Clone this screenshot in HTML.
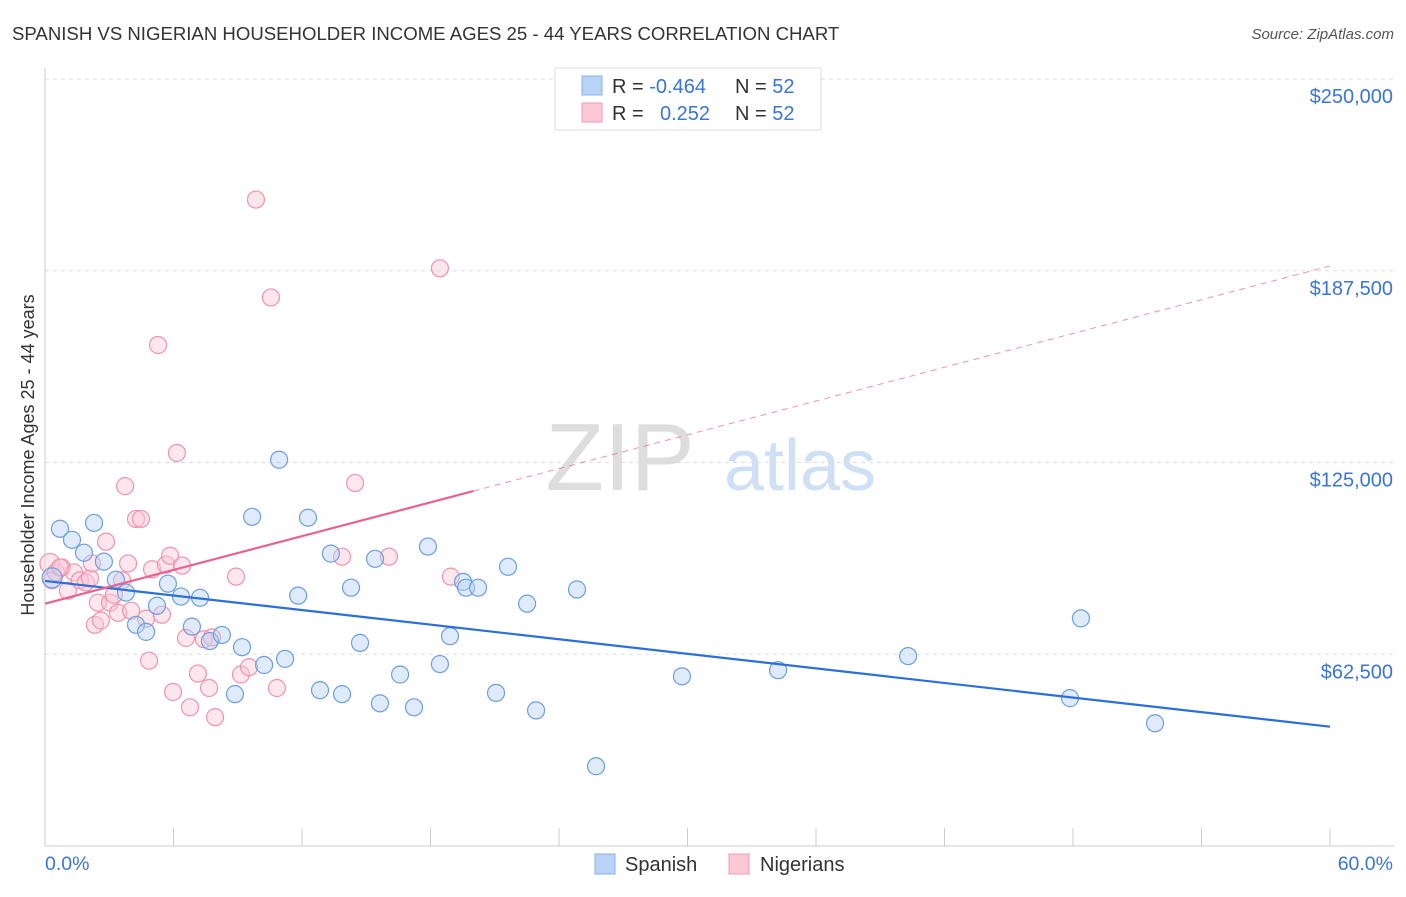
<!DOCTYPE html>
<html><head><meta charset="utf-8"><style>
body{margin:0;background:#fff;font-family:"Liberation Sans",sans-serif}
svg text{font-family:"Liberation Sans",sans-serif}
</style></head><body>
<svg id="c" width="1406" height="892">
<text x="12" y="40" font-size="18.6" fill="#333">SPANISH VS NIGERIAN HOUSEHOLDER INCOME AGES 25 - 44 YEARS CORRELATION CHART</text>
<text x="1394" y="39" font-size="15" fill="#555" font-style="italic" text-anchor="end">Source: ZipAtlas.com</text>
<text x="620" y="490" font-size="96" fill="#ddd" font-family="Liberation Serif" text-anchor="middle">ZIP</text>
<text x="800" y="490" font-size="72" fill="#cfe0f5" text-anchor="middle">atlas</text>
<text transform="translate(34,455) rotate(-90)" font-size="18" fill="#333" text-anchor="middle">Householder Income Ages 25 - 44 years</text>
<g id="grid"></g><g id="marks"></g>
<g>
<rect x="555" y="68" width="266" height="62" fill="#fff" stroke="#ddd"/>
<rect x="582" y="76" width="20" height="19" fill="#b8d3f5" stroke="#8ab2e8"/>
<rect x="582" y="103" width="20" height="19" fill="#fcc8d6" stroke="#f09ab4"/>
<text x="612" y="93" font-size="20" fill="#333">R = <tspan fill="#3a75d6">-0.464</tspan><tspan x="735">N = </tspan><tspan fill="#3a75d6">52</tspan></text>
<text x="612" y="120" font-size="20" fill="#333">R = <tspan x="660" fill="#3a75d6">0.252</tspan><tspan x="735">N = </tspan><tspan fill="#3a75d6">52</tspan></text>
</g>
<g>
<rect x="595" y="854" width="20" height="20" fill="#b8d3f5" stroke="#8ab2e8"/>
<text x="625" y="871" font-size="20" fill="#333">Spanish</text>
<rect x="729" y="854" width="20" height="20" fill="#fcc8d6" stroke="#f09ab4"/>
<text x="760" y="871" font-size="20" fill="#333">Nigerians</text>
</g>
<text x="45" y="870" font-size="19.5" fill="#3a75d6">0.0%</text>
<text x="1393" y="870" font-size="19.5" fill="#3a75d6" text-anchor="end">60.0%</text>
</svg>
<script>
const yTicks=[62500,125000,187500,250000];
const yTickLabels=["$62,500","$125,000","$187,500","$250,000"];
const spanishX=[0.33,0.7,1.26,1.82,2.29,2.75,3.31,3.78,4.25,4.72,5.23,5.74,6.35,6.86,7.24,7.7,8.26,8.87,9.2,9.67,10.23,10.93,11.21,11.82,12.28,12.84,13.35,13.87,14.29,14.71,15.41,15.64,16.58,17.23,17.88,18.44,18.91,19.52,19.66,20.22,21.06,21.62,22.51,22.93,24.84,25.73,29.74,34.23,40.3,47.86,48.37,51.83];
const spanishY=[87400,103400,99800,95600,105300,92700,86800,82600,72100,69800,78300,85500,81300,71500,80900,66800,68800,49500,64800,107300,59000,125900,61000,81600,107000,50800,95300,49500,84200,66200,93600,46500,55900,45200,97600,59300,68400,86100,84200,84200,49900,91000,79000,44200,83600,26000,55300,57300,61900,48200,74200,40000];
const nigeriaX=[0.23,0.33,0.51,0.79,1.07,1.35,1.63,1.91,2.1,2.33,2.47,2.61,2.85,3.04,3.22,3.41,3.6,3.74,3.88,4.02,4.25,4.48,4.72,4.86,5.0,5.28,5.46,5.65,5.84,5.98,6.16,6.4,6.58,6.77,7.14,7.42,7.66,7.8,7.94,8.92,9.15,9.53,9.85,10.55,10.83,13.87,14.48,16.06,18.44,18.95,0.7,2.19];
const nigeriaY=[92100,86600,89200,90800,83200,89200,86600,85900,87200,72100,79300,73500,99200,79300,81900,76000,86600,117300,92100,76700,106600,106600,74100,60400,90200,163300,75400,91700,94600,50200,128100,91400,67800,45200,56200,67400,51500,68000,42000,87800,55900,58300,210700,178800,51500,94300,118300,94300,188300,87800,90800,92100];
const NS='http://www.w3.org/2000/svg';
const X0=45,X1=1330,Yb=846,Yt=79;
const sx=v=>X0+(v/60)*(X1-X0);
const sy=v=>Yb-(v/250000)*(Yb-Yt);
function mk(t,a,p){const e=document.createElementNS(NS,t);for(const k in a)e.setAttribute(k,a[k]);(p||document.getElementById('marks')).appendChild(e);return e;}
const g=document.getElementById('grid');
yTicks.forEach((v,i)=>{
 const l=mk('line',{x1:X0,x2:1394,y1:sy(v),y2:sy(v),stroke:'#ddd','stroke-dasharray':'4,4'},g);
 
 
 const t=mk('text',{x:1393,y:sy(v)+24,'font-size':20,fill:'#3a75d6','text-anchor':'end'},g);
 t.textContent=yTickLabels[i];
 
 
});
mk('line',{x1:X0,x2:X0,y1:68,y2:Yb,stroke:'#ccc'},g);
mk('line',{x1:X0,x2:1394,y1:Yb,y2:Yb,stroke:'#ccc'},g);
for(let i=0;i<=10;i++){const t=mk('line',{x1:sx(i*6),x2:sx(i*6),y1:828,y2:Yb,stroke:'#ccc'},g);
 
 }
function fit(xs,ys){const n=xs.length,mx=xs.reduce((a,b)=>a+b)/n,my=ys.reduce((a,b)=>a+b)/n;let sxy=0,sxx=0;for(let i=0;i<n;i++){sxy+=(xs[i]-mx)*(ys[i]-my);sxx+=(xs[i]-mx)**2;}const b=sxy/sxx;return [my-b*mx,b];}
function pts(xs,ys,fill,stroke,name){xs.forEach((x,i)=>{const c=mk('circle',{cx:sx(x),cy:sy(ys[i]),r:i==0?10:8.5,fill:fill,'fill-opacity':0.45,stroke:stroke,'stroke-width':1.2});
 
 });}
pts(nigeriaX,nigeriaY,'#fcc8d6','#ee93b0','nigerians-point');
pts(spanishX,spanishY,'#b8d3f5','#6d9ee0','spanish-point');
const [a1,b1]=fit(spanishX,spanishY);
const bl=mk('line',{x1:sx(0),y1:sy(a1),x2:sx(60),y2:sy(a1+b1*60),stroke:'#2a6fdb','stroke-width':2.2});


const [a2,b2]=fit(nigeriaX,nigeriaY);
const pl=mk('line',{x1:sx(0),y1:sy(a2),x2:sx(20),y2:sy(a2+b2*20),stroke:'#e8628f','stroke-width':2.2});


const pd=mk('line',{x1:sx(20),y1:sy(a2+b2*20),x2:sx(60),y2:sy(a2+b2*60),stroke:'#e8628f','stroke-width':1,'stroke-dasharray':'6,5','stroke-opacity':0.7});


</script>
</body></html>
